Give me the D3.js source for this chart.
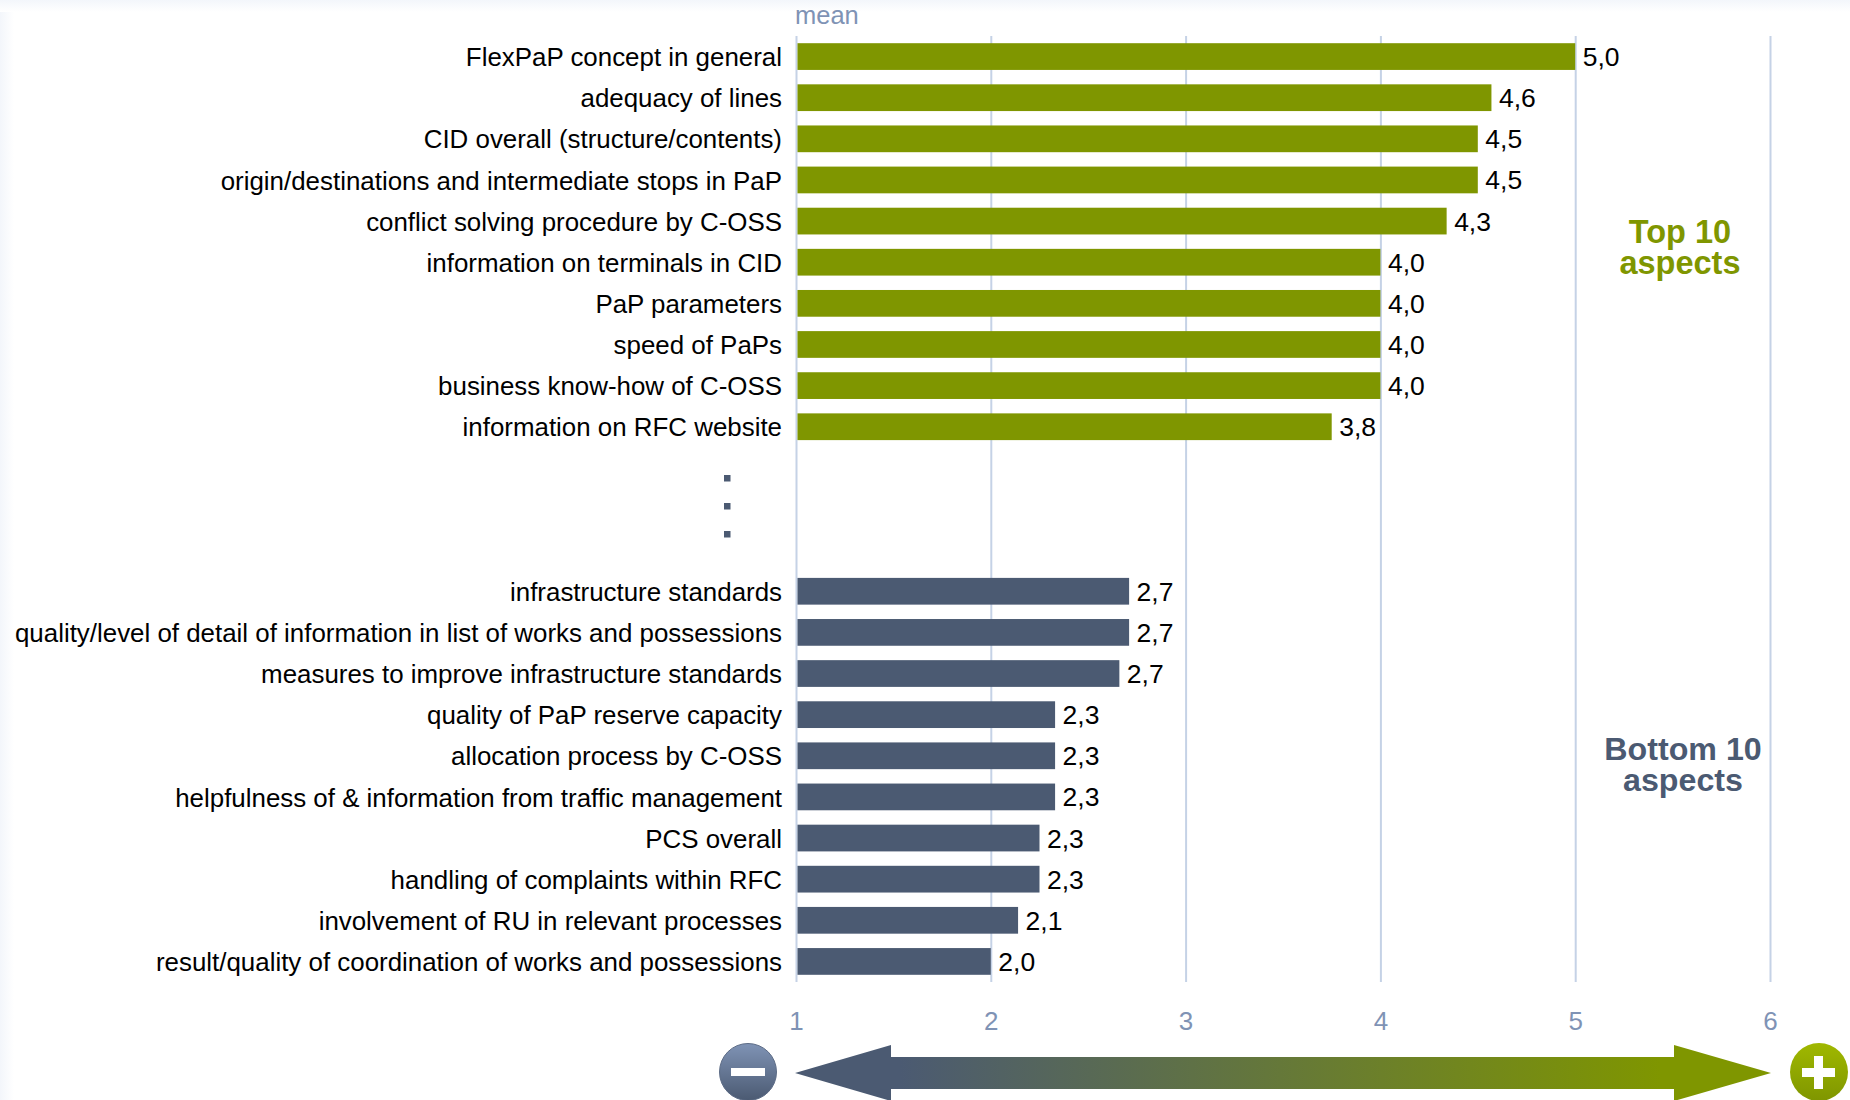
<!DOCTYPE html>
<html><head><meta charset="utf-8">
<script src="https://cdn.jsdelivr.net/npm/d3@7"></script>
<style>html,body{margin:0;padding:0;background:#fff}svg{display:block}text{font-family:"Liberation Sans",Arial,sans-serif}</style>
</head><body><div id="c"></div>
<script>
const topLabels=["FlexPaP concept in general","adequacy of lines","CID overall (structure/contents)","origin/destinations and intermediate stops in PaP","conflict solving procedure by C-OSS","information on terminals in CID","PaP parameters","speed of PaPs","business know-how of C-OSS","information on RFC website"];
const topValues=[5.0,4.57,4.5,4.5,4.34,4.0,4.0,4.0,4.0,3.75];
const topText=["5,0","4,6","4,5","4,5","4,3","4,0","4,0","4,0","4,0","3,8"];
const bottomLabels=["infrastructure standards","quality/level of detail of information in list of works and possessions","measures to improve infrastructure standards","quality of PaP reserve capacity","allocation process by C-OSS","helpfulness of & information from traffic management","PCS overall","handling of complaints within RFC","involvement of RU in relevant processes","result/quality of coordination of works and possessions"];
const bottomValues=[2.71,2.71,2.66,2.33,2.33,2.33,2.25,2.25,2.14,2.0];
const bottomText=["2,7","2,7","2,7","2,3","2,3","2,3","2,3","2,3","2,1","2,0"];
const gapRows=["gap1","gap2","gap3"];
const xTicks=[1,2,3,4,5,6];
const green="#7f9600",slate="#4b5a72",axisText="#7f93b5",gridCol="#c5d2e6";

const svg=d3.select("#c").append("svg").attr("width",1850).attr("height",1100);
const defs=svg.append("defs");
const eg=defs.append("linearGradient").attr("id","edgeL");
eg.append("stop").attr("offset",0).attr("stop-color","#f3f6fb");
eg.append("stop").attr("offset",1).attr("stop-color","#fff");
const et=defs.append("linearGradient").attr("id","edgeT").attr("x2",0).attr("y2",1);
et.append("stop").attr("offset",0).attr("stop-color","#f3f6fb");
et.append("stop").attr("offset",1).attr("stop-color","#fff");
const ag=defs.append("linearGradient").attr("id","arrowG").attr("gradientUnits","userSpaceOnUse").attr("x1",900).attr("x2",1660).attr("y1",0).attr("y2",0);
ag.append("stop").attr("offset",0).attr("stop-color",slate);
ag.append("stop").attr("offset",1).attr("stop-color",green);
const mg=defs.append("linearGradient").attr("id","minusG").attr("x2",0).attr("y2",1);
mg.append("stop").attr("offset",0).attr("stop-color","#7f93b5");
mg.append("stop").attr("offset",1).attr("stop-color",slate);
const pg=defs.append("linearGradient").attr("id","plusG").attr("x2",0).attr("y2",1);
pg.append("stop").attr("offset",0).attr("stop-color","#a0b800");
pg.append("stop").attr("offset",1).attr("stop-color",green);

svg.append("rect").attr("width",14).attr("height",1100).attr("fill","url(#edgeL)");
svg.append("rect").attr("width",1850).attr("height",12).attr("fill","url(#edgeT)");

const x=d3.scaleLinear().domain([1,6]).range([796,1770]);
const rows=[...topLabels,...gapRows,...bottomLabels];
const y=d3.scaleBand().domain(rows).range([36,982]).paddingInner(0.35).paddingOuter(0.175);
const mid=d=>y(d)+y.bandwidth()/2;

// gridlines + tick labels through the axis
const axis=d3.axisBottom(x).tickValues(xTicks).tickFormat(d3.format("d")).tickSize(946).tickPadding(30);
const ag2=svg.append("g").attr("transform","translate(0,36)").call(axis);
ag2.select(".domain").remove();
ag2.selectAll("line").attr("stroke",gridCol).attr("stroke-width",2);
ag2.selectAll("text").attr("fill",axisText).style("font-size","26px");

svg.append("text").attr("x",795).attr("y",24).attr("fill",axisText).style("font-size","25.5px").text("mean");

function series(labels,vals,txt,col){
  const d=labels.map((l,i)=>({l,v:vals[i],t:txt[i]}));
  const g=svg.append("g");
  g.selectAll("rect").data(d).join("rect").attr("x",x(1)+1.5).attr("y",e=>y(e.l)).attr("width",e=>x(e.v)-x(1)-1.5).attr("height",y.bandwidth()).attr("fill",col);
  g.selectAll(".cat").data(d).join("text").attr("class","cat").attr("x",782).attr("y",e=>mid(e.l)+0.3).attr("dy","0.36em").attr("text-anchor","end").attr("fill","#000").style("font-size","25.9px").text(e=>e.l);
  g.selectAll(".val").data(d).join("text").attr("class","val").attr("x",e=>x(e.v)+7.5).attr("y",e=>mid(e.l)).attr("dy","0.36em").attr("fill","#000").style("font-size","26.5px").text(e=>e.t);
}
series(topLabels,topValues,topText,green);
series(bottomLabels,bottomValues,bottomText,slate);

// ellipsis dots in the gap rows
svg.append("g").selectAll("rect").data(gapRows).join("rect").attr("x",724).attr("y",(d,i)=>mid("gap2")-3-3+(i-1)*28).attr("width",6.5).attr("height",6.5).attr("fill",slate);

function note(lines,cx,y0,col,fs){
  svg.append("text").attr("text-anchor","middle").attr("fill",col).style("font-size",fs+"px").style("font-weight","bold")
   .selectAll("tspan").data(lines).join("tspan").attr("x",cx).attr("y",(d,i)=>y0+i*31).text(d=>d);
}
note(["Top 10","aspects"],1680,243,green,32.5);
note(["Bottom 10","aspects"],1683,760,slate,32.2);

// direction arrow
const L=x(1)-1,R=x(6)+1,cy=1073;
svg.append("path").attr("fill","url(#arrowG)").attr("d",`M${L},${cy}L${L+96},${cy-28}V${cy-16}H${R-97}V${cy-28}L${R},${cy}L${R-97},${cy+28}V${cy+16}H${L+96}V${cy+28}Z`);
svg.append("circle").attr("cx",748).attr("cy",1072).attr("r",28.5).attr("fill","url(#minusG)").attr("stroke","#5d6c86").attr("stroke-width",1);
svg.append("rect").attr("x",731).attr("y",1068).attr("width",34).attr("height",8).attr("fill","#fff");
svg.append("circle").attr("cx",1819).attr("cy",1072).attr("r",29).attr("fill","url(#plusG)");
svg.append("rect").attr("x",1802).attr("y",1068).attr("width",33).attr("height",9).attr("fill","#fff");
svg.append("rect").attr("x",1814).attr("y",1056).attr("width",9).attr("height",33).attr("fill","#fff");
</script></body></html>
